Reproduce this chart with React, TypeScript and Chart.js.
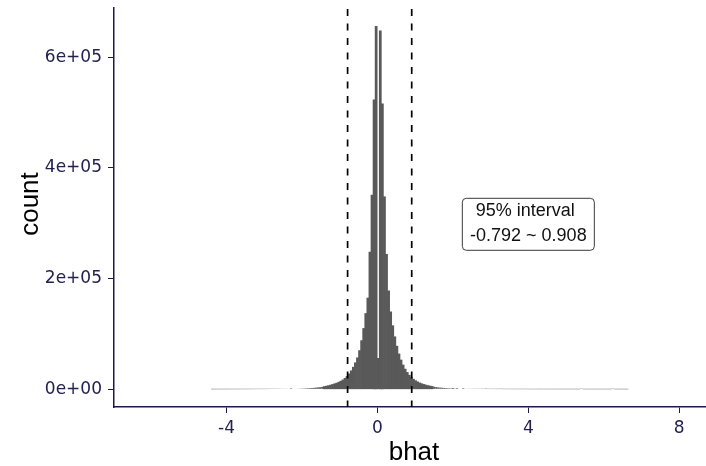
import React, { useEffect, useRef } from 'react';
import { Chart, registerables } from 'chart.js';

Chart.register(...registerables);

// ---- data ----
const binWidth = 0.055;
const firstBinCenter = -4.38;

const leftTailCounts = [
  40, 55, 65, 75, 85, 95, 105, 115, 125, 135,
  145, 155, 165, 180, 190, 200, 215, 235, 255, 275,
  295, 315, 335, 355, 375, 400, 425, 455, 485, 515,
  545, 575, 610, 645, 680, 720, 760, 800, 1800, 900,
];

const coreCounts = [
  950, 1050, 1150, 1300, 1450, 1650, 1850, 2100, 2400, 2700,
  3000, 3400, 3850, 4350, 5000, 5800, 6600, 7600, 8750, 10000,
  11300, 12900, 14800, 17000, 20000, 23500, 28000, 33500, 40000, 48000,
  57000, 70000, 88000, 110000, 137000, 165000, 248000, 351000, 523000, 656000,
  56000,
  648000, 516000, 348000, 244000, 178000, 140000, 115000, 95000, 78000, 64000,
  53000, 44000, 36500, 30500, 25500, 21500, 18300, 15600, 13400, 11600,
  10100, 8800, 7700, 6700, 5900, 5200, 4500, 4000, 3500, 3100,
  2700, 2400, 2100, 1850, 1600, 2400, 1250, 2000, 1000, 950,
];

const rightTailCounts = [
  2000, 820, 780, 740, 700, 660, 620, 590, 560, 530,
  500, 1500, 460, 440, 420, 400, 380, 360, 1500, 330,
  310, 300, 290, 280, 270, 260, 250, 240, 230, 220,
  210, 200, 195, 190, 185, 180, 175, 170, 165, 160,
  155, 150, 145, 140, 135, 130, 125, 120, 115, 110,
  108, 106, 104, 102, 100, 98, 96, 1400, 92, 90,
  88, 86, 84, 82, 80, 78, 76, 74, 72, 70,
  68, 66, 1400, 62, 60, 55, 50, 40, 30, 20,
];

const intervalBounds = [-0.792, 0.908];
const intervalLabel = ['95% interval', '-0.792 ~ 0.908'];
const labelPosition = [4, 300000];

const xTicks = [-4, 0, 4, 8];
const xTickLabels = ['-4', '0', '4', '8'];
const yTicks = [0, 200000, 400000, 600000];
const yTickLabels = ['0e+00', '2e+05', '4e+05', '6e+05'];
const xLimits = [-6.985, 8.71];
const yLimits = [-31990, 689130];
const xTitle = 'bhat';
const yTitle = 'count';

// ---- styling ----
const NAVY = '#1c1a4b';
const TICK_TEXT = '#24214f';
const BAR_FILL = '#595959';
const TICK_FONT = { family: '"DejaVu Sans", sans-serif', size: 17 };

const allCounts = [...leftTailCounts, ...coreCounts, ...rightTailCounts];
const histData = allCounts.map((c, i) => ({ x: firstBinCenter + i * binWidth, y: c }));

const overlayPlugin = {
  id: 'overlay',
  afterDatasetsDraw(chart: any) {
    const { ctx, chartArea, scales } = chart;
    const xs = scales.x;
    const ys = scales.y;
    ctx.save();
    // dashed interval lines
    ctx.strokeStyle = '#000000';
    ctx.lineWidth = 1.7;
    ctx.setLineDash([7, 7.5]);
    ctx.lineDashOffset = 0.5;
    for (const v of intervalBounds) {
      const px = xs.getPixelForValue(v);
      ctx.beginPath();
      ctx.moveTo(px, chartArea.bottom);
      ctx.lineTo(px, chartArea.top);
      ctx.stroke();
    }
    ctx.setLineDash([]);
    // label box
    const cx = xs.getPixelForValue(labelPosition[0]);
    const cy = ys.getPixelForValue(labelPosition[1]);
    const w = 132;
    const top = cy - 25;
    const h = 52;
    ctx.beginPath();
    ctx.roundRect(cx - w / 2, top, w, h, 4);
    ctx.fillStyle = '#ffffff';
    ctx.fill();
    ctx.strokeStyle = '#3a3a3a';
    ctx.lineWidth = 1;
    ctx.stroke();
    ctx.fillStyle = '#111111';
    ctx.font = '18px "Liberation Sans", Arial, sans-serif';
    ctx.textAlign = 'center';
    ctx.textBaseline = 'middle';
    ctx.fillText(intervalLabel[0], cx - 3, cy - 12.3);
    ctx.fillText(intervalLabel[1], cx, cy + 13.2);
    ctx.restore();
  },
  afterDraw(chart: any) {
    const { ctx } = chart;
    ctx.save();
    ctx.fillStyle = '#000000';
    ctx.font = '26px "Liberation Sans", Arial, sans-serif';
    ctx.textAlign = 'center';
    ctx.textBaseline = 'middle';
    ctx.fillText(xTitle, 414, 453);
    ctx.translate(31, 204);
    ctx.rotate(-Math.PI / 2);
    ctx.fillText(yTitle, 0, 0);
    ctx.restore();
  },
};

export default function App() {
  const canvasRef = useRef<HTMLCanvasElement | null>(null);

  useEffect(() => {
    if (!canvasRef.current) return;
    const chart = new Chart(canvasRef.current, {
      type: 'bar',
      data: {
        datasets: [
          {
            data: histData as any,
            backgroundColor: BAR_FILL,
            borderWidth: 0,
            barPercentage: 1,
            categoryPercentage: 1,
            inflateAmount: (c: any) => (c.raw && c.raw.y < 5000 ? 0 : 0.33),
          } as any,
        ],
      },
      options: {
        animation: false,
        responsive: false,
        devicePixelRatio: 1,
        layout: { padding: { top: 8, right: 0, bottom: 0, left: 0 } },
        plugins: { legend: { display: false }, tooltip: { enabled: false } },
        scales: {
          x: {
            type: 'linear',
            offset: false,
            min: xLimits[0],
            max: xLimits[1],
            afterBuildTicks: (s: any) => {
              s.ticks = xTicks.map((v) => ({ value: v }));
            },
            afterFit: (s: any) => {
              s.height = 59;
              s.paddingLeft = 0;
              s.paddingRight = 0;
            },
            grid: { drawOnChartArea: false, offset: false, tickLength: 6, tickColor: NAVY, tickWidth: 1 },
            border: { display: true, color: NAVY, width: 1.5 },
            ticks: {
              color: TICK_TEXT,
              font: TICK_FONT,
              padding: 5,
              maxRotation: 0,
              autoSkip: false,
              callback: (v: any) => xTickLabels[xTicks.indexOf(Number(v))] ?? '',
            },
            title: { display: false },
          },
          y: {
            type: 'linear',
            min: yLimits[0],
            max: yLimits[1],
            afterBuildTicks: (s: any) => {
              s.ticks = yTicks.map((v) => ({ value: v }));
            },
            afterFit: (s: any) => {
              s.width = 114;
              s.paddingTop = 0;
              s.paddingBottom = 0;
            },
            grid: { drawOnChartArea: false, tickLength: 6, tickColor: NAVY, tickWidth: 1 },
            border: { display: true, color: NAVY, width: 1.5 },
            ticks: {
              color: TICK_TEXT,
              font: TICK_FONT,
              padding: 6,
              autoSkip: false,
              callback: (v: any) => yTickLabels[yTicks.indexOf(Number(v))] ?? '',
            },
            title: { display: false },
          },
        },
      },
      plugins: [overlayPlugin],
    });
    return () => chart.destroy();
  }, []);

  return (
    <div style={{ position: 'fixed', left: 0, top: 0, width: 706, height: 466, background: '#ffffff' }}>
      <canvas ref={canvasRef} width={706} height={466} style={{ display: 'block' }} />
    </div>
  );
}
